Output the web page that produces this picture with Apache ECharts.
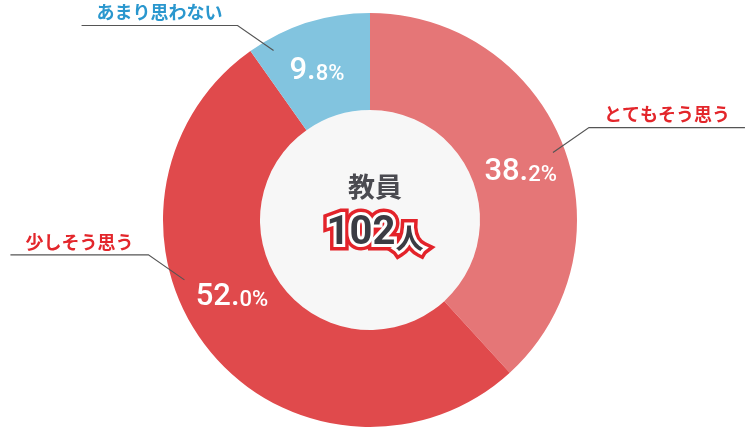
<!DOCTYPE html>
<html>
<head>
<meta charset="utf-8">
<script src="https://cdn.jsdelivr.net/npm/echarts@6/dist/echarts.min.js"></script>
<style>
  html, body { margin: 0; padding: 0; background: #fff; }
  #chart { width: 747px; height: 428px; }
</style>
</head>
<body>
<div id="chart"></div>
<script>
// データ
var categories = ['とてもそう思う', '少しそう思う', 'あまり思わない'];
var percents = [38.2, 52.0, 9.8];
var centerTitle = '教員';
var totalCount = 102;
var totalUnit = '人';

// 色
var sliceColors = ['#E57677', '#E04A4C', '#82C4DF'];
var nameColors = ['#E3262B', '#E3262B', '#2A97CE'];

// 配置
var CX = 370, CY = 220, R0 = 110, R1 = 207;
var pctShift = [3.7, 9.8, -2];   // 数値ラベルの角度補正(度)
var leadShift = [1, 21, -12];    // 引き出し線の角度補正(度)

function polar(deg, r) {
  var a = deg * Math.PI / 180;
  return [CX + r * Math.sin(a), CY - r * Math.cos(a)];
}
function angleOf(x, y) {
  var a = Math.atan2(x - CX, CY - y) * 180 / Math.PI;
  return a < 0 ? a + 360 : a;
}

var sliceData = categories.map(function (name, i) {
  return { name: name, value: percents[i], itemStyle: { color: sliceColors[i] } };
});
var nameData = categories.map(function (name, i) {
  return {
    name: name, value: percents[i],
    label: { color: nameColors[i] }
  };
});

function totalRich(border, width) {
  return {
    n: { fontSize: 40, fontWeight: 'bold', fontFamily: 'Roboto', color: '#3b3c44', textBorderColor: border, textBorderWidth: width, verticalAlign: 'bottom' },
    u: { fontSize: 28, fontWeight: 'bold', fontFamily: 'Noto Sans CJK JP', color: '#3b3c44', textBorderColor: border, textBorderWidth: width, verticalAlign: 'bottom', padding: [0, 0, 2, 0] }
  };
}
var totalText = '{n|' + totalCount + '}{u|' + totalUnit + '}';

var chart = echarts.init(document.getElementById('chart'));
chart.setOption({
  animation: false,
  title: [
    {
      text: centerTitle, left: CX, top: 168, textAlign: 'center',
      textStyle: { fontSize: 27, fontWeight: 'bold', color: '#4a4a50', fontFamily: 'Noto Sans CJK JP' }
    },
    {
      text: totalText, left: CX, top: 209, textAlign: 'center',
      textStyle: { rich: totalRich('#E3232A', 13) }
    },
    {
      text: totalText, left: CX, top: 209, textAlign: 'center',
      textStyle: { rich: totalRich('#ffffff', 6) }
    }
  ],
  series: [
    {
      // 中央の円
      type: 'pie', silent: true, z: 1,
      center: [CX, CY], radius: [0, R0],
      label: { show: false }, labelLine: { show: false },
      emphasis: { disabled: true },
      data: [{ value: 1, itemStyle: { color: '#F7F7F7' } }]
    },
    {
      type: 'pie', silent: true, z: 2,
      center: [CX, CY], radius: [R0, R1],
      startAngle: 90, clockwise: true,
      emphasis: { disabled: true },
      itemStyle: { borderWidth: 0 },
      data: sliceData,
      label: {
        show: true, position: 'inside',
        formatter: function (p) {
          var s = p.value.toFixed(1).split('.');
          return '{a|' + s[0] + '.}{b|' + s[1] + '%}';
        },
        rich: {
          a: { fontSize: 31, fontFamily: 'Roboto', fontWeight: 500, color: '#fff', verticalAlign: 'bottom' },
          b: { fontSize: 22, fontFamily: 'Roboto', fontWeight: 500, color: '#fff', verticalAlign: 'bottom', padding: [0, 0, 1, 0] }
        }
      },
      labelLine: { show: false },
      labelLayout: function (p) {
        var r = p.labelRect;
        var ang = angleOf(r.x + r.width / 2, r.y + r.height / 2) + pctShift[p.dataIndex];
        var q = polar(ang, 158);
        return { x: q[0], y: q[1], align: 'center', verticalAlign: 'middle' };
      }
    },
    {
      // 項目名と引き出し線
      type: 'pie', silent: true, z: 3,
      center: [CX, CY], radius: [R0, R1],
      startAngle: 90, clockwise: true,
      emphasis: { disabled: true },
      itemStyle: { color: 'rgba(0,0,0,0)' },
      data: nameData,
      label: {
        show: true, position: 'outside',
        fontSize: 18, fontWeight: 'bold', fontFamily: 'Noto Sans CJK JP'
      },
      labelLine: {
        show: true, length: 20, length2: 20,
        lineStyle: { color: '#555', width: 1.2 }
      },
      labelLayout: function (p) {
        var i = p.dataIndex;
        var pts = p.labelLinePoints;
        var mid = angleOf(pts[0][0], pts[0][1]);
        var s = polar(mid + leadShift[i], 195);
        var side = s[0] >= CX ? 1 : -1;
        var e = [s[0] + side * 36, s[1] - 25];
        var len = p.labelRect.width + 30;
        var f = [e[0] + side * len, e[1]];
        return {
          x: (e[0] + f[0]) / 2, y: e[1] - 4,
          align: 'center', verticalAlign: 'bottom',
          labelLinePoints: [s, e, f]
        };
      }
    }
  ]
});
</script>
</body>
</html>
